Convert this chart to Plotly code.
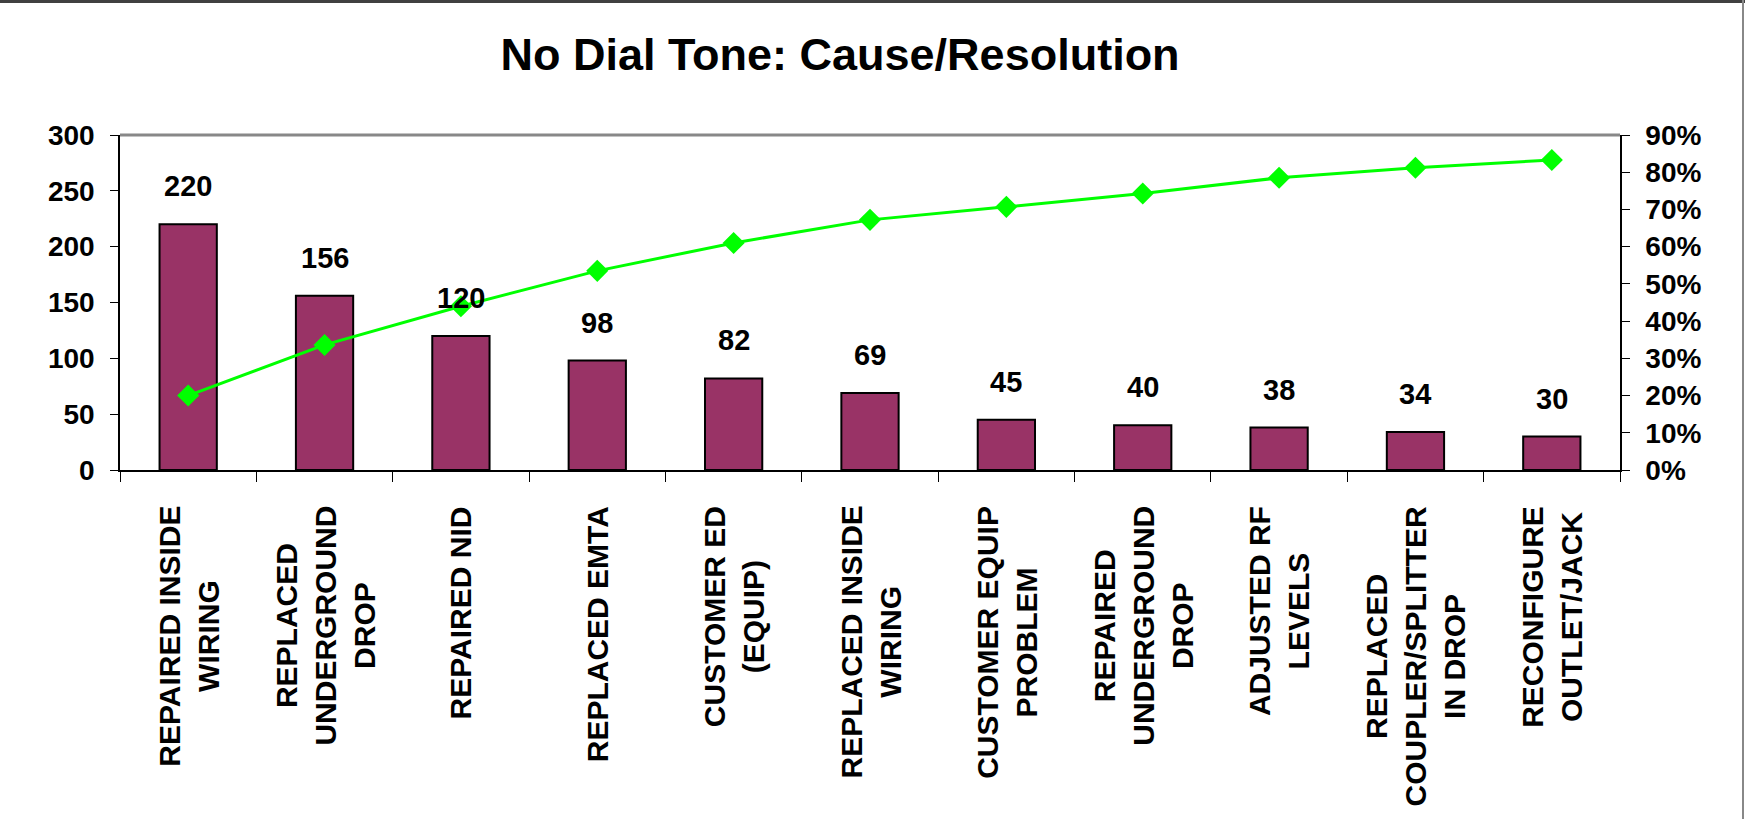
import plotly.graph_objects as go

# ---- data ----
categories = [
    "REPAIRED INSIDE<br>WIRING",
    "REPLACED<br>UNDERGROUND<br>DROP",
    "REPAIRED NID",
    "REPLACED EMTA",
    "CUSTOMER ED<br>(EQUIP)",
    "REPLACED INSIDE<br>WIRING",
    "CUSTOMER EQUIP<br>PROBLEM",
    "REPAIRED<br>UNDERGROUND<br>DROP",
    "ADJUSTED RF<br>LEVELS",
    "REPLACED<br>COUPLER/SPLITTER<br>IN DROP",
    "RECONFIGURE<br>OUTLET/JACK",
]
counts = [220, 156, 120, 98, 82, 69, 45, 40, 38, 34, 30]
cumulative_pct = [0.20, 0.336, 0.44, 0.535, 0.61, 0.672, 0.707, 0.743, 0.785, 0.812, 0.833]
left_ticks = [0, 50, 100, 150, 200, 250, 300]
right_ticks = [0, 0.1, 0.2, 0.3, 0.4, 0.5, 0.6, 0.7, 0.8, 0.9]

FONT = "Liberation Sans"
W, H = 1745, 819
L, R, T, B = 120, 125, 135, 349
PW, PH = W - L - R, H - T - B

fig = go.Figure()
fig.add_trace(go.Bar(
    x=categories, y=counts,
    marker=dict(color="#993366", line=dict(color="black", width=2)),
    hoverinfo="skip", showlegend=False,
))
fig.add_trace(go.Scatter(
    x=categories, y=cumulative_pct, yaxis="y2",
    mode="lines+markers",
    line=dict(color="#00FF00", width=3),
    marker=dict(symbol="diamond", size=17, color="#00FF00"),
    hoverinfo="skip", showlegend=False,
))

annotations = []
for c, v in zip(categories, counts):
    annotations.append(dict(
        x=c, y=v, xref="x", yref="y", text=str(v), showarrow=False,
        yanchor="middle", yshift=38,
        font=dict(family=FONT, size=29, color="black", weight="bold"),
    ))
for c in categories:
    annotations.append(dict(
        x=c, y=0, xref="x", yref="paper", text=c, showarrow=False,
        textangle=-90, yanchor="top", xanchor="center", align="center",
        yshift=-34,
        font=dict(family=FONT, size=30, color="black", weight="bold"),
    ))

tickfont = dict(family=FONT, size=28, color="black", weight="bold")
n = len(categories)
boundaries = [i - 0.5 for i in range(n + 1)]

top_frame_y = (PH + T - 1.5) / PH
right_frame_x = (1743 - L) / PW

fig.update_layout(
    width=W, height=H,
    margin=dict(l=L, r=R, t=T, b=B),
    paper_bgcolor="white", plot_bgcolor="white",
    bargap=0.58,
    title=dict(
        text="No Dial Tone: Cause/Resolution",
        x=840 / W, xanchor="center", xref="container",
        y=1 - 54 / H, yanchor="middle", yref="container",
        font=dict(family=FONT, size=45, color="black", weight="bold"),
    ),
    xaxis=dict(
        type="category", range=[-0.5, n - 0.5],
        showline=True, linecolor="black", linewidth=1.5,
        ticks="outside", tickson="boundaries", ticklen=10, tickwidth=1.2,
        tickcolor="black", showticklabels=False, showgrid=False, zeroline=False,
    ),
    xaxis3=dict(
        overlaying="x", anchor="y", side="bottom", range=[-0.5, n - 0.5],
        tickmode="array", tickvals=boundaries, ticks="inside", ticklen=10,
        tickwidth=1.2, tickcolor="black", showticklabels=False,
        showline=False, showgrid=False, zeroline=False,
    ),
    yaxis=dict(
        range=[0, 300], tickmode="array", tickvals=left_ticks,
        showline=True, linecolor="black", linewidth=1.5,
        ticks="outside", ticklen=8, tickwidth=1.2, tickcolor="black",
        tickfont=tickfont, ticklabelstandoff=10,
        showgrid=False, zeroline=False,
    ),
    yaxis3=dict(
        overlaying="y", anchor="x", side="left", range=[0, 300],
        tickmode="array", tickvals=left_ticks, ticks="inside", ticklen=8,
        tickwidth=1.2, tickcolor="black", showticklabels=False,
        showline=False, showgrid=False, zeroline=False,
    ),
    yaxis2=dict(
        overlaying="y", anchor="x", side="right", range=[0, 0.9],
        tickmode="array", tickvals=right_ticks, tickformat=".0%",
        showline=True, linecolor="black", linewidth=1.5,
        ticks="outside", ticklen=8, tickwidth=1.2, tickcolor="black",
        tickfont=tickfont, ticklabelstandoff=10,
        showgrid=False, zeroline=False,
    ),
    yaxis4=dict(
        overlaying="y", anchor="x", side="right", range=[0, 0.9],
        tickmode="array", tickvals=right_ticks, ticks="inside", ticklen=8,
        tickwidth=1.2, tickcolor="black", showticklabels=False,
        showline=False, showgrid=False, zeroline=False,
    ),
    annotations=annotations,
    shapes=[
        # gray top edge of plot area
        dict(type="line", xref="paper", yref="paper", x0=0, x1=1, y0=1, y1=1,
             line=dict(color="#888888", width=3), layer="above"),
        # outer frame: top and right
        dict(type="line", xref="paper", yref="paper",
             x0=-L / PW, x1=(W - L) / PW, y0=top_frame_y, y1=top_frame_y,
             line=dict(color="#404040", width=3)),
        dict(type="line", xref="paper", yref="paper",
             x0=right_frame_x, x1=right_frame_x, y0=-B / PH, y1=(PH + T) / PH,
             line=dict(color="#888888", width=2)),
    ],
)

fig.write_html("out.html")
